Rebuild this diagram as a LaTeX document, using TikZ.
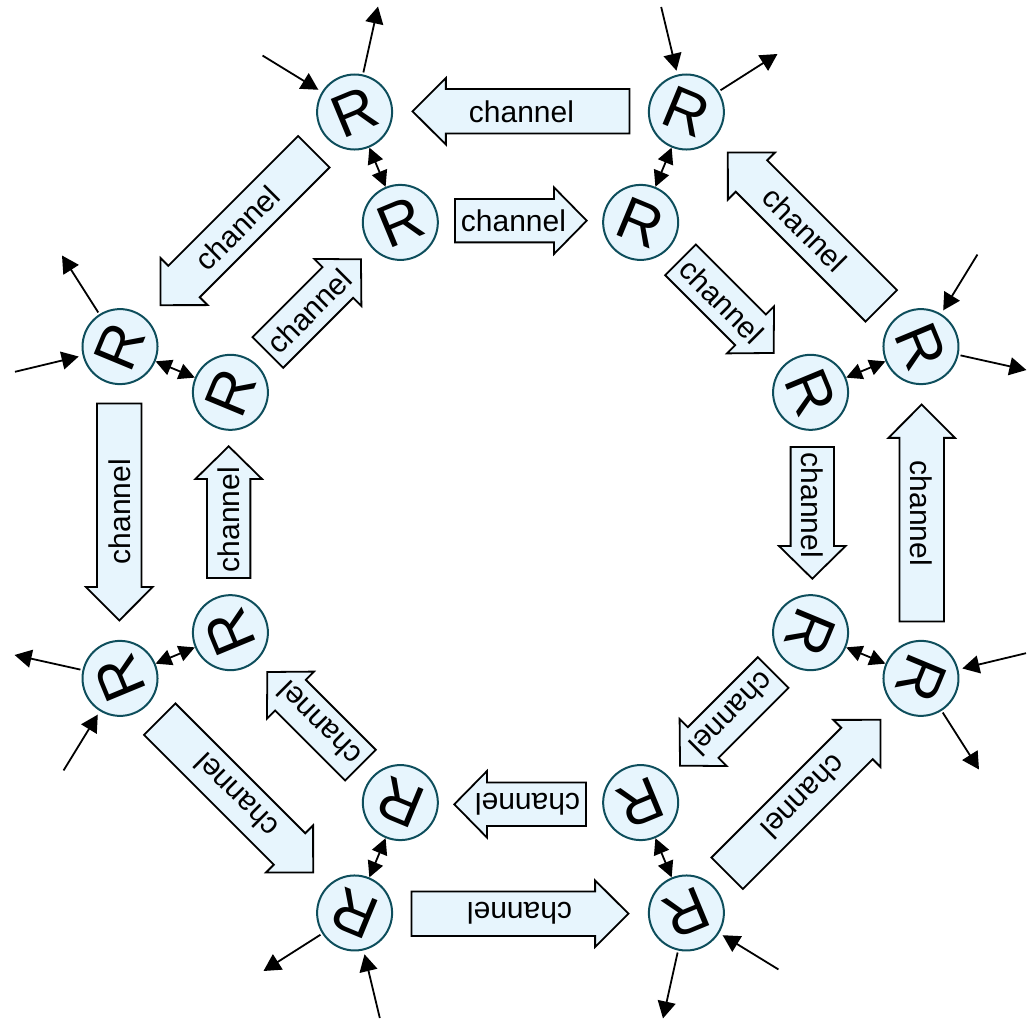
\documentclass[tikz,border=0pt]{standalone}
\usepackage{fontspec}
\setmainfont{Liberation Sans}
\usetikzlibrary{arrows.meta}
\definecolor{rfill}{RGB}{231,245,253}
\definecolor{rline}{RGB}{14,78,92}
\begin{document}
\begin{tikzpicture}[x=1pt,y=1pt,
  router/.style={circle, draw=rline, fill=rfill, line width=2pt, minimum size=75pt, inner sep=0pt,
    font=\fontsize{60}{64}\selectfont, transform shape},
  chan/.style={draw=black, fill=rfill, line width=1.8pt, line join=miter},
  chantext/.style={font=\fontsize{30}{34}\selectfont, inner sep=0pt, transform shape},
  link/.style={line width=1.8pt, -{Triangle[length=17pt,width=18pt]}},
  duplex/.style={line width=1.8pt, {Triangle[length=16pt,width=16pt]}-{Triangle[length=16pt,width=16pt]}}
]
\useasboundingbox (-520.5,-511.5) rectangle (515.5,512.5);
\foreach \k in {0,...,7}{
  \begin{scope}[rotate=45*\k]
    % outer channel (points counter-clockwise)
    \draw[chan] (109,423.4) -- (-74.6,423.4) -- (-74.6,434.5) -- (-108,401.2)
      -- (-74.6,367.9) -- (-74.6,379) -- (109,379) -- cycle;
    \node[chantext] (oc\k) at (1,401.2) {channel};
    % inner channel (points clockwise)
    \draw[chan] (-65.5,313.5) -- (33.5,313.5) -- (33.5,325.1) -- (66.2,291.8)
      -- (33.5,258.5) -- (33.5,270.1) -- (-65.5,270.1) -- cycle;
    \node[chantext] (ic\k) at (-7,291.8) {channel};
    % routers
    \node[router, rotate=-22.5] (out\k) at (67.5:433.5) {R};
    \node[router, rotate=-22.5] (in\k) at (67.5:314) {R};
    % external link end points
    \coordinate (src\k) at (140.7,505.5);
    \coordinate (dst\k) at (257.0,458.5);
    \draw[link, shorten >=4pt] (src\k) -- (out\k);
    \draw[link, shorten <=2pt] (out\k) -- (dst\k);
    \draw[duplex] (out\k) -- (in\k);
  \end{scope}
}
\end{tikzpicture}
\end{document}
